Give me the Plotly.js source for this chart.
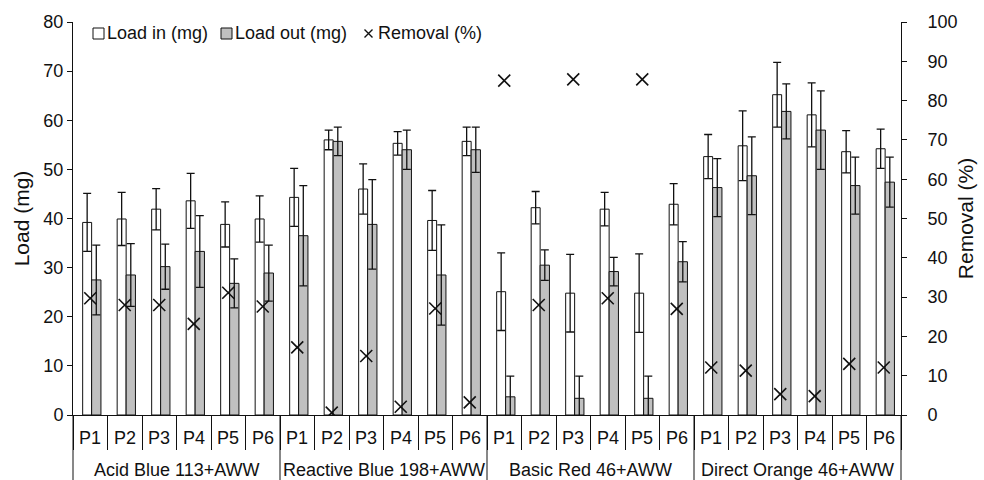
<!DOCTYPE html>
<html>
<head>
<meta charset="utf-8">
<script src="https://cdn.plot.ly/plotly-3.0.1.min.js"></script>
<style>
  html, body { margin: 0; padding: 0; background: #fff; }
  #chart { width: 984px; height: 480px; }
</style>
</head>
<body>
<div id="chart"></div>
<script>
// Dye + artificial wastewater mixtures, six sampling points each
const groups = ['Acid Blue 113+AWW', 'Reactive Blue 198+AWW', 'Basic Red 46+AWW', 'Direct Orange 46+AWW'];
const points = ['P1', 'P2', 'P3', 'P4', 'P5', 'P6'];

// Dye load entering each point (mg) and its error
const loadIn = [39.2, 39.9, 41.9, 43.6, 38.8, 39.9,
                44.3, 56.0, 46.0, 55.3, 39.6, 55.7,
                25.1, 42.2, 24.8, 41.9, 24.8, 42.9,
                52.6, 54.8, 65.2, 61.1, 53.6, 54.2];
const loadInErr = [5.9, 5.4, 4.2, 5.6, 4.6, 4.7,
                   5.9, 2.0, 5.1, 2.4, 6.1, 2.9,
                   7.9, 3.3, 7.9, 3.4, 8.0, 4.2,
                   4.5, 7.1, 6.6, 6.5, 4.3, 4.0];

// Dye load leaving each point (mg) and its error
const loadOut = [27.5, 28.5, 30.2, 33.3, 26.8, 28.9,
                 36.5, 55.7, 38.8, 54.0, 28.5, 54.0,
                 3.7, 30.5, 3.4, 29.2, 3.4, 31.2,
                 46.3, 48.7, 61.8, 58.0, 46.7, 47.4];
const loadOutErr = [7.1, 6.4, 4.6, 7.3, 5.0, 5.7,
                    10.2, 2.9, 9.1, 4.0, 10.2, 4.6,
                    4.2, 3.1, 4.5, 2.9, 4.5, 4.1,
                    5.9, 7.9, 5.6, 8.0, 5.8, 5.1];

// Removal efficiency (%)
const removal = [29.7, 28.0, 28.0, 23.2, 31.1, 27.6,
                 17.2, 0.6, 15.0, 2.1, 27.1, 3.2,
                 85.1, 28.0, 85.4, 29.7, 85.4, 27.0,
                 12.1, 11.3, 5.3, 4.8, 13.0, 12.1];

// Two-level category coordinates: [mixture, point]
const outer = [], inner = [];
groups.forEach(g => points.forEach(p => { outer.push(g); inner.push(p); }));
const xCats = [outer, inner];
const nCats = inner.length;

const FONT = 'Arial, "Liberation Sans", sans-serif';
const INK = '#111';
const GREY = '#c0c0c0';

const errStyle = arr => ({
  type: 'data', array: arr, visible: true,
  color: INK, thickness: 1.3, width: 4
});

const traces = [
  {
    type: 'bar', name: 'Load in (mg)', x: xCats, y: loadIn,
    offset: -0.22, width: 0.26,
    marker: { color: '#ffffff', line: { color: INK, width: 1 } },
    error_y: errStyle(loadInErr)
  },
  {
    type: 'bar', name: 'Load out (mg)', x: xCats, y: loadOut,
    offset: 0.04, width: 0.27,
    marker: { color: GREY, line: { color: INK, width: 1 } },
    error_y: errStyle(loadOutErr)
  },
  {
    type: 'scatter', mode: 'markers', name: 'Removal (%)', x: xCats, y: removal,
    yaxis: 'y2',
    marker: { symbol: 'x-thin', size: 12, color: INK, line: { color: INK, width: 1.6 } }
  }
];

// plot-area geometry (px) used to place the key and the category labels
const M = { l: 73, r: 83, t: 22, b: 65 };
const W = 984 - M.l - M.r, H = 480 - M.t - M.b;
const px = X => (X - M.l) / W;
const py = Y => (480 - M.b - Y) / H;
const catX = i => (i + 0.5) / nCats;      // centre of a category slot, in paper units
const edgeX = i => i / nCats;             // left boundary of a category slot

const shapes = [], annotations = [];

// key above the bars
const keyItems = [
  { label: 'Load in (mg)',  sx: 93,  kind: 'box',  fill: '#ffffff' },
  { label: 'Load out (mg)', sx: 221, kind: 'box',  fill: GREY },
  { label: 'Removal (%)',   sx: 364, kind: 'x' }
];
const keyY = 33.5;
keyItems.forEach(it => {
  if (it.kind === 'box') {
    shapes.push({
      type: 'rect', xref: 'paper', yref: 'paper',
      x0: px(it.sx), x1: px(it.sx + 11), y0: py(keyY + 5.5), y1: py(keyY - 5.5),
      fillcolor: it.fill, line: { color: INK, width: 1 }
    });
  } else {
    const c = it.sx + 4.5, h = 4;
    shapes.push({
      type: 'path', xref: 'paper', yref: 'paper',
      path: `M${px(c - h)},${py(keyY - h)}L${px(c + h)},${py(keyY + h)}M${px(c - h)},${py(keyY + h)}L${px(c + h)},${py(keyY - h)}`,
      line: { color: INK, width: 1.4 }
    });
  }
  annotations.push({
    xref: 'paper', yref: 'paper', x: px(it.sx + 12), y: py(keyY),
    xanchor: 'left', yanchor: 'middle', showarrow: false,
    text: it.label, font: { family: FONT, size: 18, color: INK }
  });
});

// two-row category labels under the axis
inner.forEach((p, i) => annotations.push({
  xref: 'paper', yref: 'paper', x: catX(i), y: py(438),
  xanchor: 'center', yanchor: 'middle', showarrow: false,
  text: p, font: { family: FONT, size: 18, color: INK }
}));
groups.forEach((g, k) => {
  const first = k * points.length;
  annotations.push({
    xref: 'paper', yref: 'paper', x: (first + points.length / 2) / nCats, y: py(470),
    xanchor: 'center', yanchor: 'middle', showarrow: false,
    text: g, font: { family: FONT, size: 18, color: INK }
  });
  // full-height divider at the start of every mixture, and one closing the last
  shapes.push({
    type: 'line', xref: 'paper', yref: 'paper',
    x0: edgeX(first), x1: edgeX(first), y0: 0, y1: py(480),
    line: { color: INK, width: 1 }
  });
});
shapes.push({
  type: 'line', xref: 'paper', yref: 'paper',
  x0: 1, x1: 1, y0: 0, y1: py(480),
  line: { color: INK, width: 1 }
});

const layout = {
  width: 984, height: 480,
  margin: M,
  paper_bgcolor: '#ffffff', plot_bgcolor: '#ffffff',
  font: { family: FONT, color: INK, size: 18 },
  showlegend: false,
  barmode: 'overlay',
  xaxis: {
    type: 'multicategory',
    range: [-0.5, nCats - 0.5], autorange: false,
    showline: true, linecolor: INK, linewidth: 1,
    ticks: 'outside', tickson: 'boundaries', ticklen: 34, tickcolor: INK, tickwidth: 1,
    showticklabels: false, showdividers: false,
    showgrid: false, zeroline: false
  },
  yaxis: {
    range: [0, 80], dtick: 10,
    showline: true, linecolor: INK, linewidth: 1,
    ticks: 'outside', ticklen: 5, tickcolor: INK,
    showgrid: false, zeroline: false,
    tickfont: { family: FONT, size: 18, color: INK },
    title: { text: 'Load (mg)', standoff: 8, font: { family: FONT, size: 21, color: INK } }
  },
  yaxis2: {
    overlaying: 'y', side: 'right',
    range: [0, 100], dtick: 10,
    showline: true, linecolor: INK, linewidth: 1,
    ticks: 'outside', ticklen: 5, tickcolor: INK, ticklabelstandoff: 17,
    showgrid: false, zeroline: false,
    tickfont: { family: FONT, size: 18, color: INK },
    title: { text: 'Removal (%)', standoff: 1, font: { family: FONT, size: 21, color: INK } }
  },
  shapes: shapes,
  annotations: annotations
};

Plotly.newPlot('chart', traces, layout, { staticPlot: true, displayModeBar: false });
</script>
</body>
</html>
